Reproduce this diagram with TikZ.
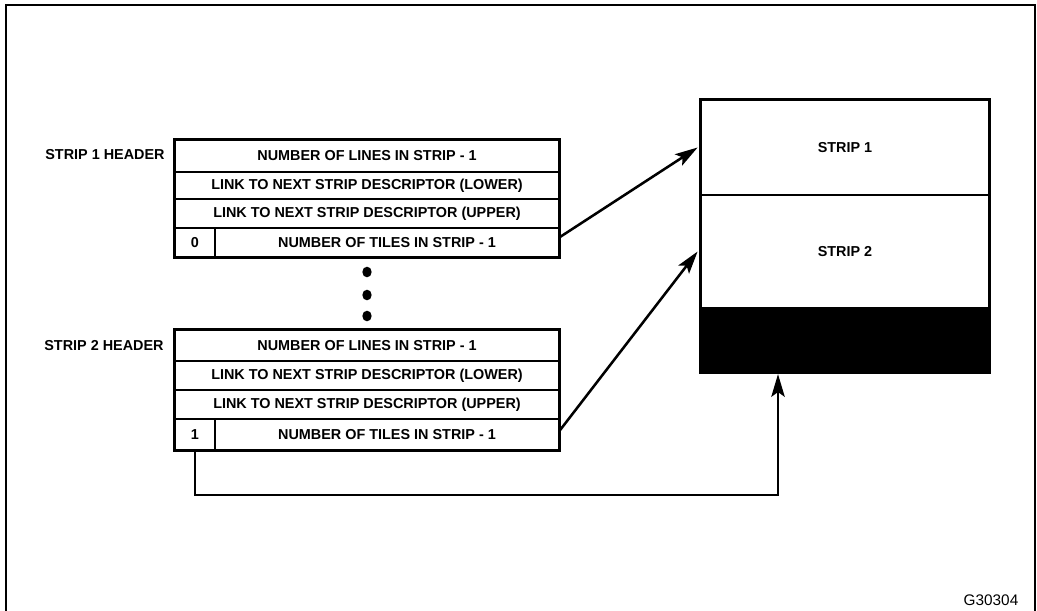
\documentclass[tikz,border=0pt]{standalone}
\usepackage{fontspec}
\setmainfont{Liberation Sans}
\usetikzlibrary{arrows.meta,shapes.geometric}
\begin{document}
\begin{tikzpicture}[x=0.75pt,y=-0.75pt,
  lbl/.style={font=\fontsize{10.8}{12}\selectfont\bfseries, inner sep=0pt},
  cell/.style={draw, line width=1.1pt, inner sep=0pt, font=\fontsize{10.8}{12}\selectfont\bfseries},
  outer/.style={line width=2.6pt},
  conn/.style={line width=1.9pt, -{Stealth[length=17pt,width=10pt,inset=3.5pt]}},
  dotm/.style={ellipse, fill=black, inner sep=0pt, minimum width=7pt, minimum height=8pt},
]
\useasboundingbox (0,0) rectangle (1037,610);
% frame
\draw[line width=2.2pt] (6,612) -- (6,5) -- (1035,5) -- (1035,612);

% strip 1 header table
\node[cell, minimum width=288pt, minimum height=24pt] (h1a) at (367,156) {NUMBER OF LINES IN STRIP - 1};
\node[cell, minimum width=288pt, minimum height=20.25pt] (h1b) at (367,185.5) {LINK TO NEXT STRIP DESCRIPTOR (LOWER)};
\node[cell, minimum width=288pt, minimum height=21.75pt] (h1c) at (367,213.5) {LINK TO NEXT STRIP DESCRIPTOR (UPPER)};
\node[cell, minimum width=30pt, minimum height=21.75pt] (h1z) at (195,242.5) {0};
\node[cell, minimum width=258pt, minimum height=21.75pt] (h1d) at (387,242.5) {NUMBER OF TILES IN STRIP - 1};
\draw[outer] (h1a.north west) rectangle (h1d.south east);
\node[lbl] (l1) at (105,155) {STRIP 1 HEADER};

% dots
\node[dotm] (d1) at (367,272) {};
\node[dotm] (d2) at (367,295) {};
\node[dotm] (d3) at (367,316) {};

% strip 2 header table
\node[cell, minimum width=288pt, minimum height=23.25pt] (h2a) at (367,345.5) {NUMBER OF LINES IN STRIP - 1};
\node[cell, minimum width=288pt, minimum height=21.75pt] (h2b) at (367,375.5) {LINK TO NEXT STRIP DESCRIPTOR (LOWER)};
\node[cell, minimum width=288pt, minimum height=21.75pt] (h2c) at (367,404.5) {LINK TO NEXT STRIP DESCRIPTOR (UPPER)};
\node[cell, minimum width=30pt, minimum height=23.25pt] (h2z) at (195,434.5) {1};
\node[cell, minimum width=258pt, minimum height=23.25pt] (h2d) at (387,434.5) {NUMBER OF TILES IN STRIP - 1};
\draw[outer] (h2a.north west) rectangle (h2d.south east);
\node[lbl] (l2) at (104,346) {STRIP 2 HEADER};

% memory box
\node[cell, minimum width=216pt, minimum height=71.25pt] (s1) at (845,147.5) {STRIP 1};
\node[cell, minimum width=216pt, minimum height=84.75pt] (s2) at (845,251.5) {STRIP 2};
\node[draw, fill=black, line width=1.1pt, minimum width=216pt, minimum height=48pt, inner sep=0pt] (blk) at (845,340) {};
\draw[outer] (s1.north west) rectangle (blk.south east);

% connectors
\draw[conn] ([yshift=4pt]h1d.east) -- ([xshift=-2pt]s1.west);
\draw[conn] ([yshift=3pt]h2d.east) -- ([xshift=-2pt]s2.west);
\coordinate (turn) at (778,495);
\draw[conn] (h2z.south) |- (turn) -- ([yshift=-1pt]turn |- blk.south);

\node[font=\fontsize{11.5}{13}\selectfont, inner sep=0pt] (code) at (991,600) {G30304};
\end{tikzpicture}
\end{document}
